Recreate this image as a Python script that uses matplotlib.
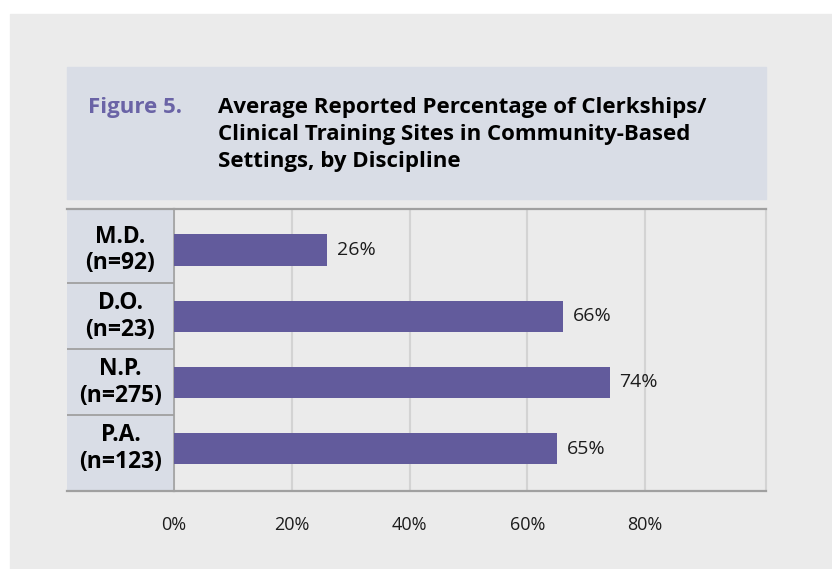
import matplotlib
matplotlib.use("Agg")
import matplotlib.pyplot as plt
from matplotlib.patches import Rectangle

plt.rcParams['font.family'] = ['Open Sans', 'DejaVu Sans']

disciplines = ["M.D.\n(n=92)", "D.O.\n(n=23)", "N.P.\n(n=275)", "P.A.\n(n=123)"]
percent = [26, 66, 74, 65]
ticks = [0, 20, 40, 60, 80]
fig_label = "Figure 5."
title = ("Average Reported Percentage of Clerkships/\n"
         "Clinical Training Sites in Community-Based\n"
         "Settings, by Discipline")

W, H = 832, 569
fx = lambda x: x / W
fy = lambda y: 1 - y / H

bg = '#ebebeb'
box = '#d9dde6'
purple = '#625b9c'
line_gray = '#a0a0a0'
grid_gray = '#d3d3d3'
txt = '#1c1c1c'

fig = plt.figure(figsize=(W / 100, H / 100), dpi=100, facecolor='white')

# outer panel and title box
fig.patches.append(Rectangle((fx(10), 0), 1, fy(14), transform=fig.transFigure,
                             color=bg, zorder=-10))
fig.patches.append(Rectangle((fx(67), fy(199)), fx(766) - fx(67), fy(67) - fy(199),
                             transform=fig.transFigure, color=box, zorder=-5))
fig.text(fx(88), fy(97), fig_label, color='#6a63a6', fontsize=16,
         fontweight='bold', va='top', ha='left')
fig.text(fx(218), fy(97), title, color='black', fontsize=16,
         fontweight='bold', va='top', ha='left', linespacing=1.38)

top, bottom = 208.7, 490.5
ylim = (3.633, -0.624)

# label column
lax = fig.add_axes([fx(67), fy(bottom), fx(174) - fx(67), fy(top) - fy(bottom)])
lax.set_facecolor(box)
lax.set_xlim(0, 1)
lax.set_ylim(*ylim)
for i, lab in enumerate(disciplines):
    lax.text(0.5, i, lab, ha='center', va='center', fontsize=16.5,
             fontweight='bold', color='black', linespacing=1.15)
for i in range(len(disciplines) - 1):
    lax.axhline(i + 0.5, color=line_gray, lw=1.3)
lax.set_xticks([])
lax.set_yticks([])
for s in ['left', 'right']:
    lax.spines[s].set_visible(False)
for s in ['top', 'bottom']:
    lax.spines[s].set_color(line_gray)
    lax.spines[s].set_linewidth(1.6)

# bars
ax = fig.add_axes([fx(174), fy(bottom), fx(766) - fx(174), fy(top) - fy(bottom)])
ax.set_facecolor('none')
ax.barh(range(len(percent)), percent, height=0.47, color=purple, zorder=3)
for i, v in enumerate(percent):
    ax.annotate(f"{v}%", (v, i), xytext=(7, 0), textcoords='offset points',
                va='center', ha='left', fontsize=14, color=txt)
ax.set_xlim(0, 100.5)
ax.set_ylim(*ylim)
ax.set_xticks(ticks)
ax.set_xticklabels([f"{t}%" for t in ticks])
ax.set_yticks([])
ax.xaxis.grid(True, color=grid_gray, lw=1.5, zorder=0)
ax.set_axisbelow(True)
ax.tick_params(axis='x', length=0, pad=18, labelsize=13, labelcolor=txt)
ax.spines['top'].set_color(line_gray)
ax.spines['top'].set_linewidth(1.6)
ax.spines['bottom'].set_color(line_gray)
ax.spines['bottom'].set_linewidth(1.6)
ax.spines['left'].set_color(line_gray)
ax.spines['left'].set_linewidth(1.2)
ax.spines['right'].set_color(grid_gray)
ax.spines['right'].set_linewidth(1.5)

fig.savefig("out.png", dpi=100)
